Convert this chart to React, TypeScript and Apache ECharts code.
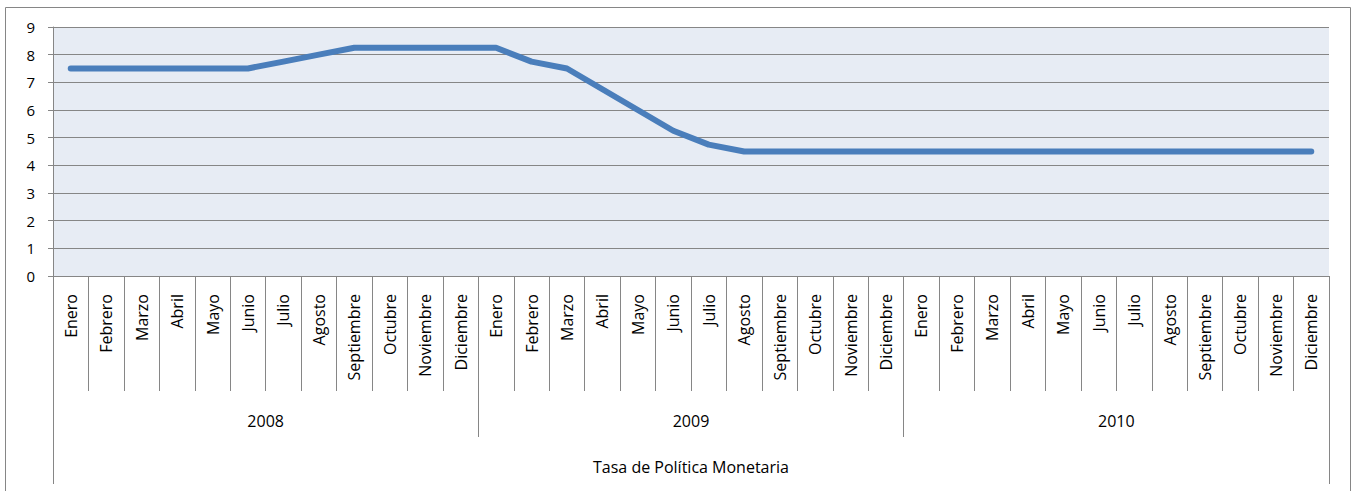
import React, { useEffect, useRef } from "react";
import * as echarts from "echarts";

const months = [
  "Enero", "Febrero", "Marzo", "Abril", "Mayo", "Junio",
  "Julio", "Agosto", "Septiembre", "Octubre", "Noviembre", "Diciembre",
];
const years = ["2008", "2009", "2010"];
const seriesName = "Tasa de Política Monetaria";

const values2008 = [7.5, 7.5, 7.5, 7.5, 7.5, 7.5, 7.75, 8.0, 8.25, 8.25, 8.25, 8.25];
const values2009 = [8.25, 7.75, 7.5, 6.75, 6.0, 5.25, 4.75, 4.5, 4.5, 4.5, 4.5, 4.5];
const values2010 = [4.5, 4.5, 4.5, 4.5, 4.5, 4.5, 4.5, 4.5, 4.5, 4.5, 4.5, 4.5];

const yTicks = { min: 0, max: 9, interval: 1 };

export default function App() {
  const ref = useRef<HTMLDivElement>(null);

  useEffect(() => {
    if (!ref.current) return;
    const chart = echarts.init(ref.current, null, { renderer: "svg" });
    const categories: string[] = [];
    years.forEach((y) => months.forEach((m) => categories.push(y + "-" + m)));
    const data = [...values2008, ...values2009, ...values2010];
    const gray = "#868686";
    const font = "Open Sans";

    chart.setOption({
      animation: false,
      backgroundColor: "#ffffff",
      grid: {
        left: 53,
        top: 27,
        right: 28,
        bottom: 215,
        containLabel: false,
        show: true,
        backgroundColor: "#E7ECF4",
        borderWidth: 0,
      },
      graphic: [
        {
          type: "rect",
          shape: { x: 5.5, y: 7.5, width: 1345, height: 490 },
          style: { fill: "none", stroke: gray, lineWidth: 1 },
          silent: true,
        },
      ],
      xAxis: [
        {
          type: "category",
          data: categories,
          position: "bottom",
          boundaryGap: true,
          axisLine: { show: true, lineStyle: { color: gray, width: 1 } },
          axisTick: {
            show: true,
            length: 115,
            interval: 0,
            alignWithLabel: false,
            lineStyle: { color: gray, width: 1 },
          },
          axisLabel: {
            interval: 0,
            rotate: 90,
            margin: 18,
            color: "#000",
            fontSize: 16,
            fontFamily: font,
            formatter: (v: string) => v.split("-")[1],
          },
          splitLine: { show: false },
        },
        {
          type: "category",
          data: years,
          position: "bottom",
          boundaryGap: true,
          axisLine: { show: false },
          axisTick: {
            show: true,
            length: 161,
            interval: 0,
            lineStyle: { color: gray, width: 1 },
          },
          axisLabel: {
            interval: 0,
            margin: 137,
            color: "#000",
            fontSize: 16,
            fontFamily: font,
          },
          splitLine: { show: false },
        },
        {
          type: "category",
          data: [seriesName],
          position: "bottom",
          boundaryGap: true,
          axisLine: { show: false },
          axisTick: {
            show: true,
            length: 208,
            interval: 0,
            lineStyle: { color: gray, width: 1 },
          },
          axisLabel: {
            interval: 0,
            margin: 183,
            color: "#000",
            fontSize: 16,
            fontFamily: font,
          },
          splitLine: { show: false },
        },
      ],
      yAxis: {
        type: "value",
        min: yTicks.min,
        max: yTicks.max,
        interval: yTicks.interval,
        axisLine: { show: true, lineStyle: { color: gray, width: 1 } },
        axisTick: { show: true, length: 5, lineStyle: { color: gray } },
        axisLabel: { color: "#000", fontSize: 15, fontFamily: font, margin: 18 },
        splitLine: { show: true, lineStyle: { color: gray, width: 1 } },
      },
      series: [
        {
          name: seriesName,
          type: "line",
          xAxisIndex: 0,
          data,
          showSymbol: false,
          symbol: "none",
          lineStyle: { color: "#4A7EBB", width: 6, cap: "round", join: "round" },
          itemStyle: { color: "#4A7EBB" },
        },
      ],
    });
    return () => chart.dispose();
  }, []);

  return (
    <div
      ref={ref}
      style={{ position: "absolute", left: 0, top: 0, width: 1357, height: 491 }}
    />
  );
}
